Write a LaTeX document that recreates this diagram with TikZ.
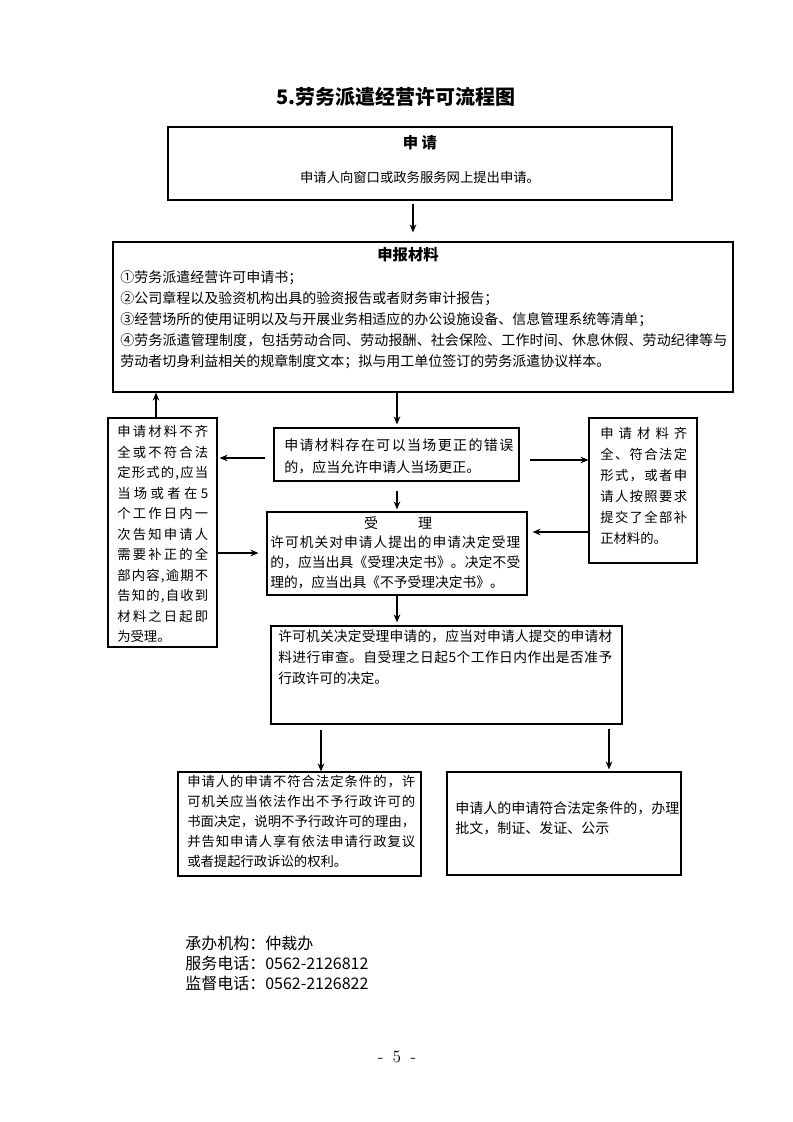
\documentclass[tikz,border=0pt]{standalone}
\usepackage{fontspec}
\newfontfamily\cjk{Noto Sans CJK SC}
\usetikzlibrary{arrows.meta,fit}
\newdimen\px \px=0.75pt
\makeatletter
\def\jl#1#2{\makebox[#1][s]{\jl@a#2\@nil}}
\def\jl@a#1#2\@nil{#1\ifx\relax#2\relax\else\hfill\jl@a#2\@nil\fi}
\makeatother
\begin{document}
\begin{tikzpicture}[x=0.75pt,y=-0.75pt,
  box/.style={draw, line width=0.9pt, inner sep=0pt},
  txt/.style={inner sep=0pt, anchor=north west, align=left},
  ctxt/.style={inner sep=0pt, anchor=center},
  arr/.style={-{Stealth[length=6pt,width=5pt]}, line width=0.8pt}]
\useasboundingbox (0,0) rectangle (793,1122);

% title
\node[ctxt, font=\cjk\bfseries\fontsize{15}{18}\selectfont] (title) at (396,97) {5.劳务派遣经营许可流程图};

% boxes
\node[box, fit={(168,127) (672,200)}] (b1) {};
\node[box, fit={(113,242) (733,392)}] (b2) {};
\node[box, fit={(108,418) (217,647)}] (lb) {};
\node[box, fit={(274,428) (519,481)}] (ba) {};
\node[box, fit={(589,418) (697,563)}] (rb) {};
\node[box, fit={(267,512) (527,595)}] (sl) {};
\node[box, fit={(271,626) (622,724)}] (rv) {};
\node[box, fit={(178,772) (421,876)}] (bl) {};
\node[box, fit={(447,772) (681,875)}] (br) {};

% texts
\node[ctxt, font=\cjk\bfseries\fontsize{11.5}{14}\selectfont] (t1a) at (420,143) {申 请};
\node[ctxt, font=\cjk\fontsize{10}{12}\selectfont] (t1b) at (420,177) {申请人向窗口或政务服务网上提出申请。};

\node[ctxt, font=\cjk\bfseries\fontsize{11.5}{14}\selectfont] (t2a) at (408,255) {申报材料};
\node[txt, font=\cjk\fontsize{10.5}{15.75}\selectfont] (t2b) at (120,270) {%
①劳务派遣经营许可申请书；\\
②公司章程以及验资机构出具的验资报告或者财务审计报告；\\
③经营场所的使用证明以及与开展业务相适应的办公设施设备、信息管理系统等清单；\\
\jl{607\px}{④劳务派遣管理制度，包括劳动合同、劳动报酬、社会保险、工作时间、休息休假、劳动纪律等与}\\
劳动者切身利益相关的规章制度文本；拟与用工单位签订的劳务派遣协议样本。};

\node[txt, font=\cjk\fontsize{10}{15.375}\selectfont] (tl) at (117,425) {%
\jl{91\px}{申请材料不齐}\\
\jl{91\px}{全或不符合法}\\
\jl{91\px}{定形式的,应当}\\
\jl{91\px}{当场或者在5}\\
\jl{91\px}{个工作日内一}\\
\jl{91\px}{次告知申请人}\\
\jl{91\px}{需要补正的全}\\
\jl{91\px}{部内容,逾期不}\\
\jl{91\px}{告知的,自收到}\\
\jl{91\px}{材料之日起即}\\
为受理。};

\node[txt, font=\cjk\fontsize{10}{15.75}\selectfont] (tr) at (600,427) {%
\jl{87\px}{申请材料齐}\\
\jl{87\px}{全、符合法定}\\
\jl{87\px}{形式，或者申}\\
\jl{87\px}{请人按照要求}\\
\jl{87\px}{提交了全部补}\\
正材料的。};

\node[txt, font=\cjk\fontsize{10.5}{16.5}\selectfont] (ta) at (284,438) {%
\jl{229\px}{申请材料存在可以当场更正的错误}\\
的，应当允许申请人当场更正。};

\node[ctxt, font=\cjk\fontsize{10.5}{12}\selectfont] (tsa) at (398,523) {受\hspace{40\px}理};
\node[txt, font=\cjk\fontsize{10.3}{15}\selectfont] (tsb) at (270,536) {%
\jl{250\px}{许可机关对申请人提出的申请决定受理}\\
\jl{250\px}{的，应当出具《受理决定书》。决定不受}\\
理的，应当出具《不予受理决定书》。};

\node[txt, font=\cjk\fontsize{10.3}{15.75}\selectfont] (tv) at (278,630) {%
\jl{334\px}{许可机关决定受理申请的，应当对申请人提交的申请材}\\
\jl{334\px}{料进行审查。自受理之日起5个工作日内作出是否准予}\\
行政许可的决定。};

\node[txt, font=\cjk\fontsize{10}{15}\selectfont] (tbl) at (187,775) {%
\jl{228\px}{申请人的申请不符合法定条件的，许}\\
\jl{228\px}{可机关应当依法作出不予行政许可的}\\
\jl{228\px}{书面决定，说明不予行政许可的理由，}\\
\jl{228\px}{并告知申请人享有依法申请行政复议}\\
或者提起行政诉讼的权利。};

\node[txt, font=\cjk\fontsize{10.5}{15}\selectfont] (tbr) at (455,801) {%
申请人的申请符合法定条件的，办理\\
批文，制证、发证、公示};

% footer
\node[txt, font=\cjk\fontsize{12}{15}\selectfont] (foot) at (185,936) {%
承办机构：仲裁办\\
服务电话：0562-2126812\\
监督电话：0562-2126822};
\node[ctxt, font=\fontsize{13}{15}\selectfont] (pg) at (397,1057) {-\hspace{7pt}5\hspace{7pt}-};

% arrow helper coordinates
\coordinate (x1) at (413,0);
\coordinate (x2) at (397,0);
\coordinate (x3) at (156,0);
\coordinate (x4) at (321,0);
\coordinate (x5) at (609,0);
\coordinate (y1) at (0,458);
\coordinate (y2) at (0,460);
\coordinate (y3) at (0,532);
\coordinate (y4) at (0,553);

% arrows
\draw[arr, shorten <=3\px, shorten >=9\px] (b1.south -| x1) -- (b2.north -| x1);
\draw[arr, shorten >=3\px] (b2.south -| x2) -- (ba.north -| x2);
\draw[arr] (lb.north -| x3) -- (b2.south -| x3);
\draw[arr, shorten <=8\px, shorten >=2\px] (ba.west |- y1) -- (lb.east |- y1);
\draw[arr, shorten <=10\px] (ba.east |- y2) -- (rb.west |- y2);
\draw[arr, shorten <=9\px, shorten >=2\px] (ba.south -| x2) -- (sl.north -| x2);
\draw[arr, shorten >=5\px] (rb.west |- y3) -- (sl.east |- y3);
\draw[arr, shorten >=8\px] (lb.east |- y4) -- (sl.west |- y4);
\draw[arr, shorten >=3\px] (sl.south -| x2) -- (rv.north -| x2);
\draw[arr, shorten <=5\px] (rv.south -| x4) -- (bl.north -| x4);
\draw[arr, shorten <=4\px, shorten >=2\px] (rv.south -| x5) -- (br.north -| x5);
\end{tikzpicture}
\end{document}
